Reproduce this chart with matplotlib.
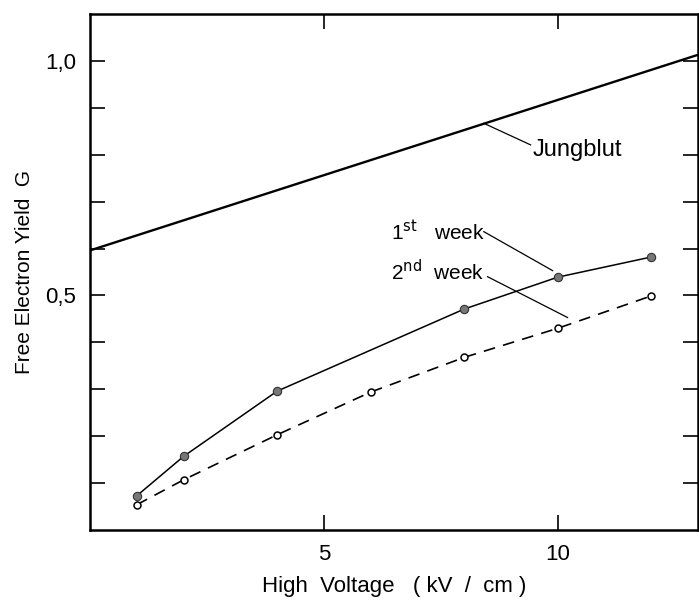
import numpy as np
import matplotlib.pyplot as plt

plt.rcParams['font.family'] = ['Liberation Sans', 'DejaVu Sans']

# Dados
campo_kv = [1, 2, 4, 8, 10, 12]
semana1 = [0.073, 0.157, 0.296, 0.471, 0.539, 0.582]

campo_kv2 = [1, 2, 4, 6, 8, 10, 12]
semana2 = [0.054, 0.107, 0.203, 0.294, 0.368, 0.430, 0.499]

jungblut_x = [0, 13]
jungblut_y = [0.596, 1.013]

fig = plt.figure(figsize=(6.99, 6.03), dpi=100)
ax = fig.add_axes([0.1288, 0.121, 0.8698, 0.8558])

ax.plot(jungblut_x, jungblut_y, color='black', lw=1.7)
ax.plot(campo_kv, semana1, color='black', lw=1.1, marker='o', ms=6,
        mfc='#777777', mec='#333333', mew=0.8)
ax.plot(campo_kv2, semana2, color='black', lw=1.2, ls=(0, (7, 5)), marker='o', ms=5,
        mfc='white', mec='black', mew=1.1)

# Rótulos das curvas
ax.plot([8.42, 9.42], [0.867, 0.821], color='black', lw=0.9)
ax.text(9.46, 0.810, 'Jungblut', fontsize=17, va='center', ha='left')

ax.plot([8.42, 9.89], [0.636, 0.553], color='black', lw=0.9)
ax.text(6.43, 0.636, r'1$^{\mathrm{st}}$   week', fontsize=15, va='center', ha='left')

ax.plot([8.50, 10.21], [0.540, 0.453], color='black', lw=0.9)
ax.text(6.43, 0.550, r'2$^{\mathrm{nd}}$  week', fontsize=15, va='center', ha='left')

ax.set_xlim(0, 13)
ax.set_ylim(0, 1.1)

ax.set_xticks([5, 10])
ax.set_xticklabels(['5', '10'], fontsize=16)
ax.set_yticks(np.arange(0.1, 1.05, 0.1))
ax.set_yticklabels(['' if i not in (4, 9) else ('0,5' if i == 4 else '1,0') for i in range(10)],
                   fontsize=16)

ax.tick_params(axis='both', direction='in', width=1.2, length=11, pad=10)
ax.tick_params(axis='y', right=True, left=True)
ax.tick_params(axis='x', top=True, bottom=True)
for s in ax.spines.values():
    s.set_linewidth(1.8)

ax.set_xlabel('High  Voltage   ( kV  /  cm )', fontsize=16, labelpad=8)
ax.set_ylabel('Free Electron Yield  G', fontsize=15, labelpad=8)

plt.savefig('out.png', dpi=100)
